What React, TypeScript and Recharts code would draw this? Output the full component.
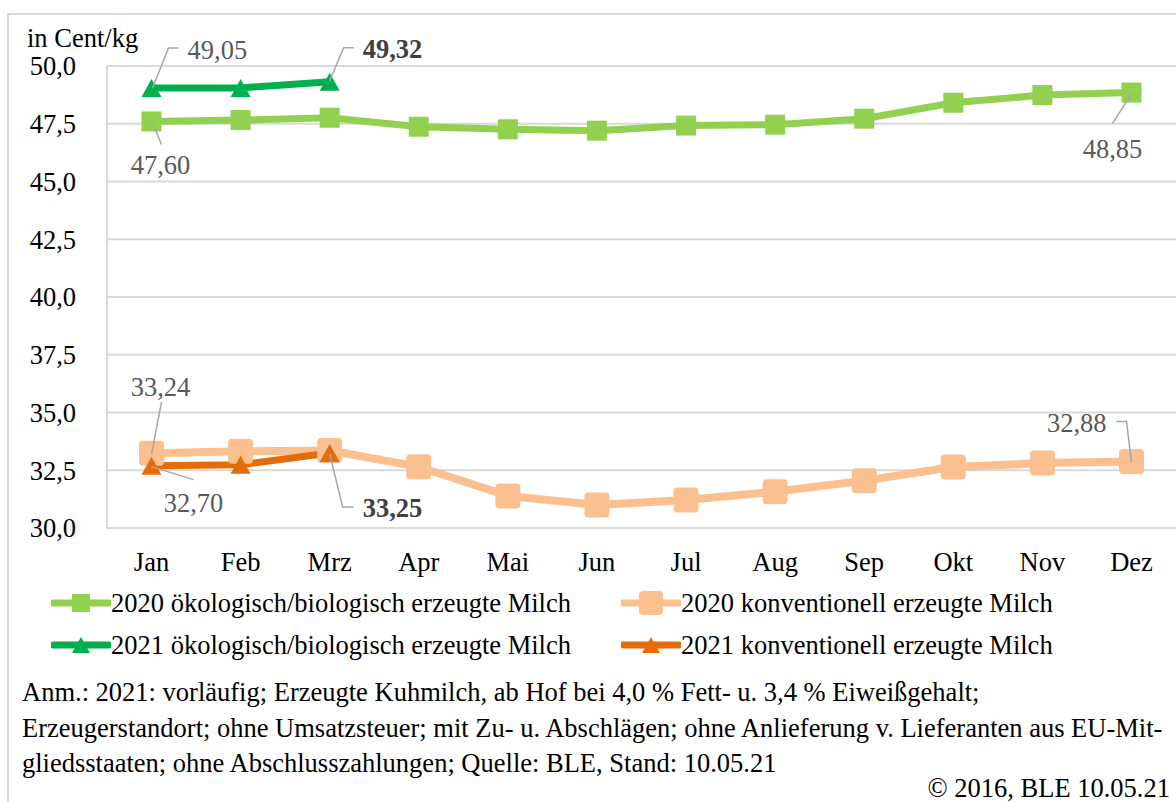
import React from "react";
import { LineChart, Line, XAxis, YAxis, CartesianGrid } from "recharts";

const months = ["Jan", "Feb", "Mrz", "Apr", "Mai", "Jun", "Jul", "Aug", "Sep", "Okt", "Nov", "Dez"];
const bio2020 = [47.6, 47.66, 47.76, 47.37, 47.26, 47.2, 47.42, 47.46, 47.72, 48.41, 48.74, 48.85];
const bio2021 = [49.05, 49.05, 49.32, null, null, null, null, null, null, null, null, null];
const konv2020 = [33.24, 33.32, 33.35, 32.65, 31.39, 31.0, 31.21, 31.57, 32.05, 32.64, 32.81, 32.88];
const konv2021 = [32.7, 32.74, 33.25, null, null, null, null, null, null, null, null, null];
const yTicks = [30, 32.5, 35, 37.5, 40, 42.5, 45, 47.5, 50];

const C_BIO20 = "#92d050";
const C_BIO21 = "#00b050";
const C_KONV20 = "#fac090";
const C_KONV21 = "#e46c0a";
const FONT = "'Liberation Serif', 'Times New Roman', serif";
const FS = 26.5;

const data = months.map((m, i) => ({
  month: m,
  bio2020: bio2020[i],
  bio2021: bio2021[i],
  konv2020: konv2020[i],
  konv2021: konv2021[i],
}));

const fmt = (v: number) => v.toFixed(2).replace(".", ",");

// label placement per series/index: leader polyline (relative to point), text offset
type LabelCfg = { pts: [number, number][]; dx: number; dy: number; anchor: "start" | "middle" | "end"; bold?: boolean };
const labelCfg: Record<string, Record<number, LabelCfg>> = {
  bio2020: {
    0: { pts: [[1, 1], [10, 23]], dx: 9, dy: 44, anchor: "middle" },
    11: { pts: [[0, 1], [-19, 31]], dx: -19, dy: 56, anchor: "middle" },
  },
  bio2021: {
    0: { pts: [[1, 0], [17, -40], [27, -40]], dx: 36, dy: -38, anchor: "start" },
    2: { pts: [[0, -1], [14, -34], [24, -34]], dx: 33, dy: -33, anchor: "start", bold: true },
  },
  konv2020: {
    0: { pts: [[0, 1], [10, -51]], dx: 9, dy: -66, anchor: "middle" },
    11: { pts: [[0, 1], [-5, -40], [-15, -40]], dx: -25, dy: -38, anchor: "end" },
  },
  konv2021: {
    0: { pts: [[0, 1], [42, 14]], dx: 42, dy: 37, anchor: "middle" },
    2: { pts: [[0, 1], [13, 54], [24, 54]], dx: 33, dy: 55, anchor: "start", bold: true },
  },
};

function Marker({ kind, cx, cy, color, size }: { kind: string; cx: number; cy: number; color: string; size: number }) {
  if (kind === "tri") {
    const h = size * 0.9;
    return <polygon points={`${cx},${cy - h / 2} ${cx + size / 2},${cy + h / 2} ${cx - size / 2},${cy + h / 2}`} fill={color} />;
  }
  return <rect x={cx - size / 2} y={cy - size / 2} width={size} height={size} rx={kind === "round" ? 4 : 0} fill={color} />;
}

function makeDot(key: string, kind: string, color: string, size: number) {
  return (props: any) => {
    const { cx, cy, index, value } = props;
    if (cx == null || cy == null || value == null) return <g key={`${key}-${index}`} />;
    const cfg = labelCfg[key][index];
    return (
      <g key={`${key}-${index}`}>
        <Marker kind={kind} cx={cx} cy={cy} color={color} size={size} />
        {cfg && (
          <g>
            <polyline
              points={cfg.pts.map(([x, y]) => `${cx + x},${cy + y}`).join(" ")}
              fill="none"
              stroke="#a6a6a6"
              strokeWidth={1.5}
            />
            <text
              x={cx + cfg.dx}
              y={cy + cfg.dy}
              textAnchor={cfg.anchor}
              dominantBaseline="central"
              fontFamily={FONT}
              fontSize={FS}
              fontWeight={cfg.bold ? "bold" : "normal"}
              fill={cfg.bold ? "#404040" : "#595959"}
            >
              {fmt(value)}
            </text>
          </g>
        )}
      </g>
    );
  };
}

function LegendItem({ x, y, color, kind, size, label }: any) {
  return (
    <div style={{ position: "absolute", left: x, top: y - 18, height: 36, display: "flex", alignItems: "center" }}>
      <svg width={60} height={36}>
        <line x1={2} y1={18} x2={58} y2={18} stroke={color} strokeWidth={7} strokeLinecap="round" />
        <Marker kind={kind} cx={30} cy={18} color={color} size={size} />
      </svg>
      <span style={{ fontSize: FS, color: "#000", whiteSpace: "nowrap" }}>{label}</span>
    </div>
  );
}

export default function App() {
  return (
    <div
      style={{
        position: "absolute",
        left: 0,
        top: 0,
        width: 1176,
        height: 802,
        background: "#fff",
        overflow: "hidden",
        fontFamily: FONT,
      }}
    >
      <div style={{ position: "absolute", left: 7, top: 13, width: 1300, height: 900, border: "2px solid #d9d9d9" }} />
      <div style={{ position: "absolute", left: 27, top: 22, fontSize: FS, lineHeight: "32px" }}>in Cent/kg</div>

      <div style={{ position: "absolute", left: 0, top: 0 }}>
        <LineChart width={1176} height={590} data={data} margin={{ top: 66, right: 0, left: 0, bottom: 0 }}>
          <CartesianGrid vertical={false} stroke="#d9d9d9" strokeWidth={2} />
          <XAxis
            dataKey="month"
            height={62}
            padding={{ left: 44.5, right: 44.5 }}
            axisLine={{ stroke: "#d9d9d9", strokeWidth: 2 }}
            tickLine={false}
            tickSize={0}
            tickMargin={24}
            interval={0}
            tick={{ fill: "#000", fontSize: FS, fontFamily: FONT }}
          />
          <YAxis
            width={107}
            domain={[30, 50]}
            ticks={yTicks}
            interval={0}
            axisLine={{ stroke: "#d9d9d9", strokeWidth: 2 }}
            tickLine={false}
            tickSize={0}
            tickMargin={31}
            tickFormatter={(v: number) => v.toFixed(1).replace(".", ",")}
            tick={{ fill: "#000", fontSize: FS, fontFamily: FONT }}
          />
          <Line dataKey="bio2020" stroke={C_BIO20} strokeWidth={7} dot={makeDot("bio2020", "sq", C_BIO20, 20)} activeDot={false} isAnimationActive={false} />
          <Line dataKey="bio2021" stroke={C_BIO21} strokeWidth={7} dot={makeDot("bio2021", "tri", C_BIO21, 20)} activeDot={false} isAnimationActive={false} />
          <Line dataKey="konv2020" stroke={C_KONV20} strokeWidth={8} dot={makeDot("konv2020", "round", C_KONV20, 25)} activeDot={false} isAnimationActive={false} />
          <Line dataKey="konv2021" stroke={C_KONV21} strokeWidth={7} dot={makeDot("konv2021", "tri", C_KONV21, 20)} activeDot={false} isAnimationActive={false} />
        </LineChart>
      </div>

      <LegendItem x={51} y={603} color={C_BIO20} kind="sq" size={18} label="2020 ökologisch/biologisch erzeugte Milch" />
      <LegendItem x={621} y={603} color={C_KONV20} kind="round" size={24} label="2020 konventionell erzeugte Milch" />
      <LegendItem x={51} y={645} color={C_BIO21} kind="tri" size={18} label="2021 ökologisch/biologisch erzeugte Milch" />
      <LegendItem x={621} y={645} color={C_KONV21} kind="tri" size={18} label="2021 konventionell erzeugte Milch" />

      <div style={{ position: "absolute", left: 22, top: 675, width: 1154, fontSize: FS, lineHeight: "35.5px", color: "#000" }}>
        <div style={{ whiteSpace: "nowrap" }}>Anm.: 2021: vorläufig; Erzeugte Kuhmilch, ab Hof bei 4,0 % Fett- u. 3,4 % Eiweißgehalt;</div>
        <div style={{ whiteSpace: "nowrap" }}>Erzeugerstandort; ohne Umsatzsteuer; mit Zu- u. Abschlägen; ohne Anlieferung v. Lieferanten aus EU-Mit-</div>
        <div style={{ whiteSpace: "nowrap" }}>gliedsstaaten; ohne Abschlusszahlungen; Quelle: BLE, Stand: 10.05.21</div>
      </div>
      <div style={{ position: "absolute", right: 6, top: 775, fontSize: FS, lineHeight: "26px", whiteSpace: "nowrap" }}>
        © 2016, BLE 10.05.21
      </div>
    </div>
  );
}
